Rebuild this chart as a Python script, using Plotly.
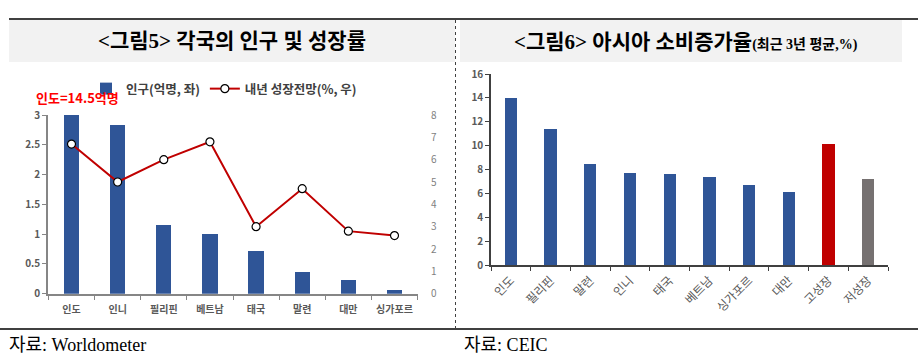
import plotly.graph_objects as go

W, H = 918, 361

# ---- data: left chart ----
countries_left = ["인도", "인니", "필리핀", "베트남", "태국", "말련", "대만", "싱가포르"]
population = [14.5, 2.83, 1.16, 1.01, 0.72, 0.36, 0.23, 0.06]   # 억명
growth_outlook = [6.7, 5.0, 6.0, 6.8, 3.0, 4.7, 2.8, 2.6]      # %

# ---- data: right chart ----
countries_right = ["인도", "필리핀", "말련", "인니", "태국", "베트남", "싱가포르", "대만", "고성장", "저성장"]
consumption_growth = [14.0, 11.4, 8.5, 7.7, 7.6, 7.35, 6.7, 6.1, 10.1, 7.2]
right_colors = ["#2F5597"] * 8 + ["#C00000", "#767171"]

def px(x):
    return x / W

def py(y):
    return 1 - y / H

FONT = "Noto Sans CJK KR, Noto Sans, sans-serif"
TICK = "#595959"

fig = go.Figure()

fig.add_trace(go.Bar(
    x=countries_left, y=population, name="인구(억명, 좌)",
    marker=dict(color="#2F5597", line=dict(width=0)), width=0.33,
    xaxis="x", yaxis="y",
))
fig.add_trace(go.Scatter(
    x=countries_left, y=growth_outlook, name="내년 성장전망(%, 우)",
    mode="lines+markers",
    line=dict(color="#C00000", width=2),
    marker=dict(symbol="circle", size=8, color="white", line=dict(color="black", width=1.2)),
    xaxis="x", yaxis="y2",
))
fig.add_trace(go.Bar(
    x=countries_right, y=consumption_growth, showlegend=False,
    marker=dict(color=right_colors, line=dict(width=0)), width=0.31,
    xaxis="x3", yaxis="y3",
))

tickfont_b = dict(family=FONT, size=10, color=TICK, weight="bold")

fig.update_layout(
    width=W, height=H,
    margin=dict(l=0, r=0, t=0, b=0, autoexpand=False),
    paper_bgcolor="white", plot_bgcolor="rgba(0,0,0,0)",
    bargap=0,
    showlegend=True,
    legend=dict(
        orientation="h", x=px(86), y=py(89), xanchor="left", yanchor="middle",
        font=dict(family=FONT, size=12.5, color="#404040", weight="bold"),
        bgcolor="rgba(0,0,0,0)", itemwidth=30, traceorder="normal",
    ),
    xaxis=dict(
        domain=[px(48), px(418)], anchor="y",
        showline=True, linecolor="#868686", linewidth=1.5,
        ticks="outside", tickson="boundaries", ticklen=5, tickcolor="#868686",
        ticklabelstandoff=6,
        tickfont=dict(family=FONT, size=10, color=TICK, weight="bold"),
        showgrid=False, automargin=False,
    ),
    yaxis=dict(
        domain=[py(293.7), py(115)], range=[0, 3], dtick=0.5, anchor="x",
        showline=True, linecolor="#868686", linewidth=1.5,
        ticks="outside", ticklen=4, tickcolor="#868686",
        tickfont=tickfont_b, showgrid=False, zeroline=False, automargin=False,
    ),
    yaxis2=dict(
        overlaying="y", side="right", anchor="x", range=[0, 8], dtick=1,
        showline=False, ticks="", ticklabelstandoff=12,
        tickfont=dict(family=FONT, size=10, color="#7F7F7F"),
        showgrid=False, zeroline=False, automargin=False,
    ),
    xaxis3=dict(
        domain=[px(491), px(888)], anchor="y3",
        showline=True, linecolor="#404040", linewidth=1.5,
        ticks="outside", tickson="boundaries", ticklen=4, tickcolor="#404040",
        tickangle=-45, ticklabelstandoff=2,
        tickfont=dict(family=FONT, size=12, color=TICK),
        showgrid=False, automargin=False,
    ),
    yaxis3=dict(
        domain=[py(265), py(74)], range=[0, 16], dtick=2, anchor="x3",
        showline=True, linecolor="#404040", linewidth=1.5,
        ticks="outside", ticklen=4, tickcolor="#404040",
        tickfont=tickfont_b, showgrid=False, zeroline=False, automargin=False,
    ),
)

shapes = [
    # title backgrounds
    dict(type="rect", xref="paper", yref="paper", x0=px(9), x1=px(455), y0=py(62), y1=py(20),
         fillcolor="#F2F2F2", line=dict(width=0), layer="below"),
    dict(type="rect", xref="paper", yref="paper", x0=px(460), x1=px(902), y0=py(62), y1=py(20),
         fillcolor="#F2F2F2", line=dict(width=0), layer="below"),
    # top rule
    dict(type="line", xref="paper", yref="paper", x0=px(9), x1=px(918), y0=py(19), y1=py(19),
         line=dict(color="black", width=1.5)),
    # bottom rule
    dict(type="line", xref="paper", yref="paper", x0=px(0), x1=px(918), y0=py(329), y1=py(329),
         line=dict(color="black", width=1.5)),
    # dotted separator
    dict(type="line", xref="paper", yref="paper", x0=px(455.5), x1=px(455.5), y0=py(20), y1=py(329),
         line=dict(color="#404040", width=1, dash="dot")),
]
fig.update_layout(shapes=shapes)

TITLE_FONT = "Liberation Serif, Noto Sans CJK KR, serif"
annotations = [
    dict(text="&lt;그림5&gt; 각국의 인구 및 성장률", x=px(232), y=py(41), xref="paper", yref="paper",
         xanchor="center", yanchor="middle",
         showarrow=False, font=dict(family=TITLE_FONT, size=21, color="black", weight="bold")),
    dict(text="&lt;그림6&gt; 아시아 소비증가율<span style='font-size:14px'>(최근 3년 평균,%)</span>",
         x=px(686), y=py(42), xref="paper", yref="paper", xanchor="center", yanchor="middle",
         showarrow=False, font=dict(family=TITLE_FONT, size=21, color="black", weight="bold")),
    dict(text="인도=14.5억명", x=px(34), y=py(97), xref="paper", yref="paper",
         xanchor="left", yanchor="middle",
         showarrow=False, font=dict(family=FONT, size=13, color="#FF0000", weight="bold")),
    dict(text="자료: Worldometer", x=px(7), y=py(345), xref="paper", yref="paper",
         xanchor="left", yanchor="middle",
         showarrow=False, font=dict(family=TITLE_FONT, size=18, color="black")),
    dict(text="자료: CEIC", x=px(462), y=py(345), xref="paper", yref="paper",
         xanchor="left", yanchor="middle",
         showarrow=False, font=dict(family=TITLE_FONT, size=18, color="black")),
]
fig.update_layout(annotations=annotations)

fig.write_html(
    "out.html",
    config={"displayModeBar": False},
    post_script="document.body.style.margin='0';document.body.style.padding='0';",
)
